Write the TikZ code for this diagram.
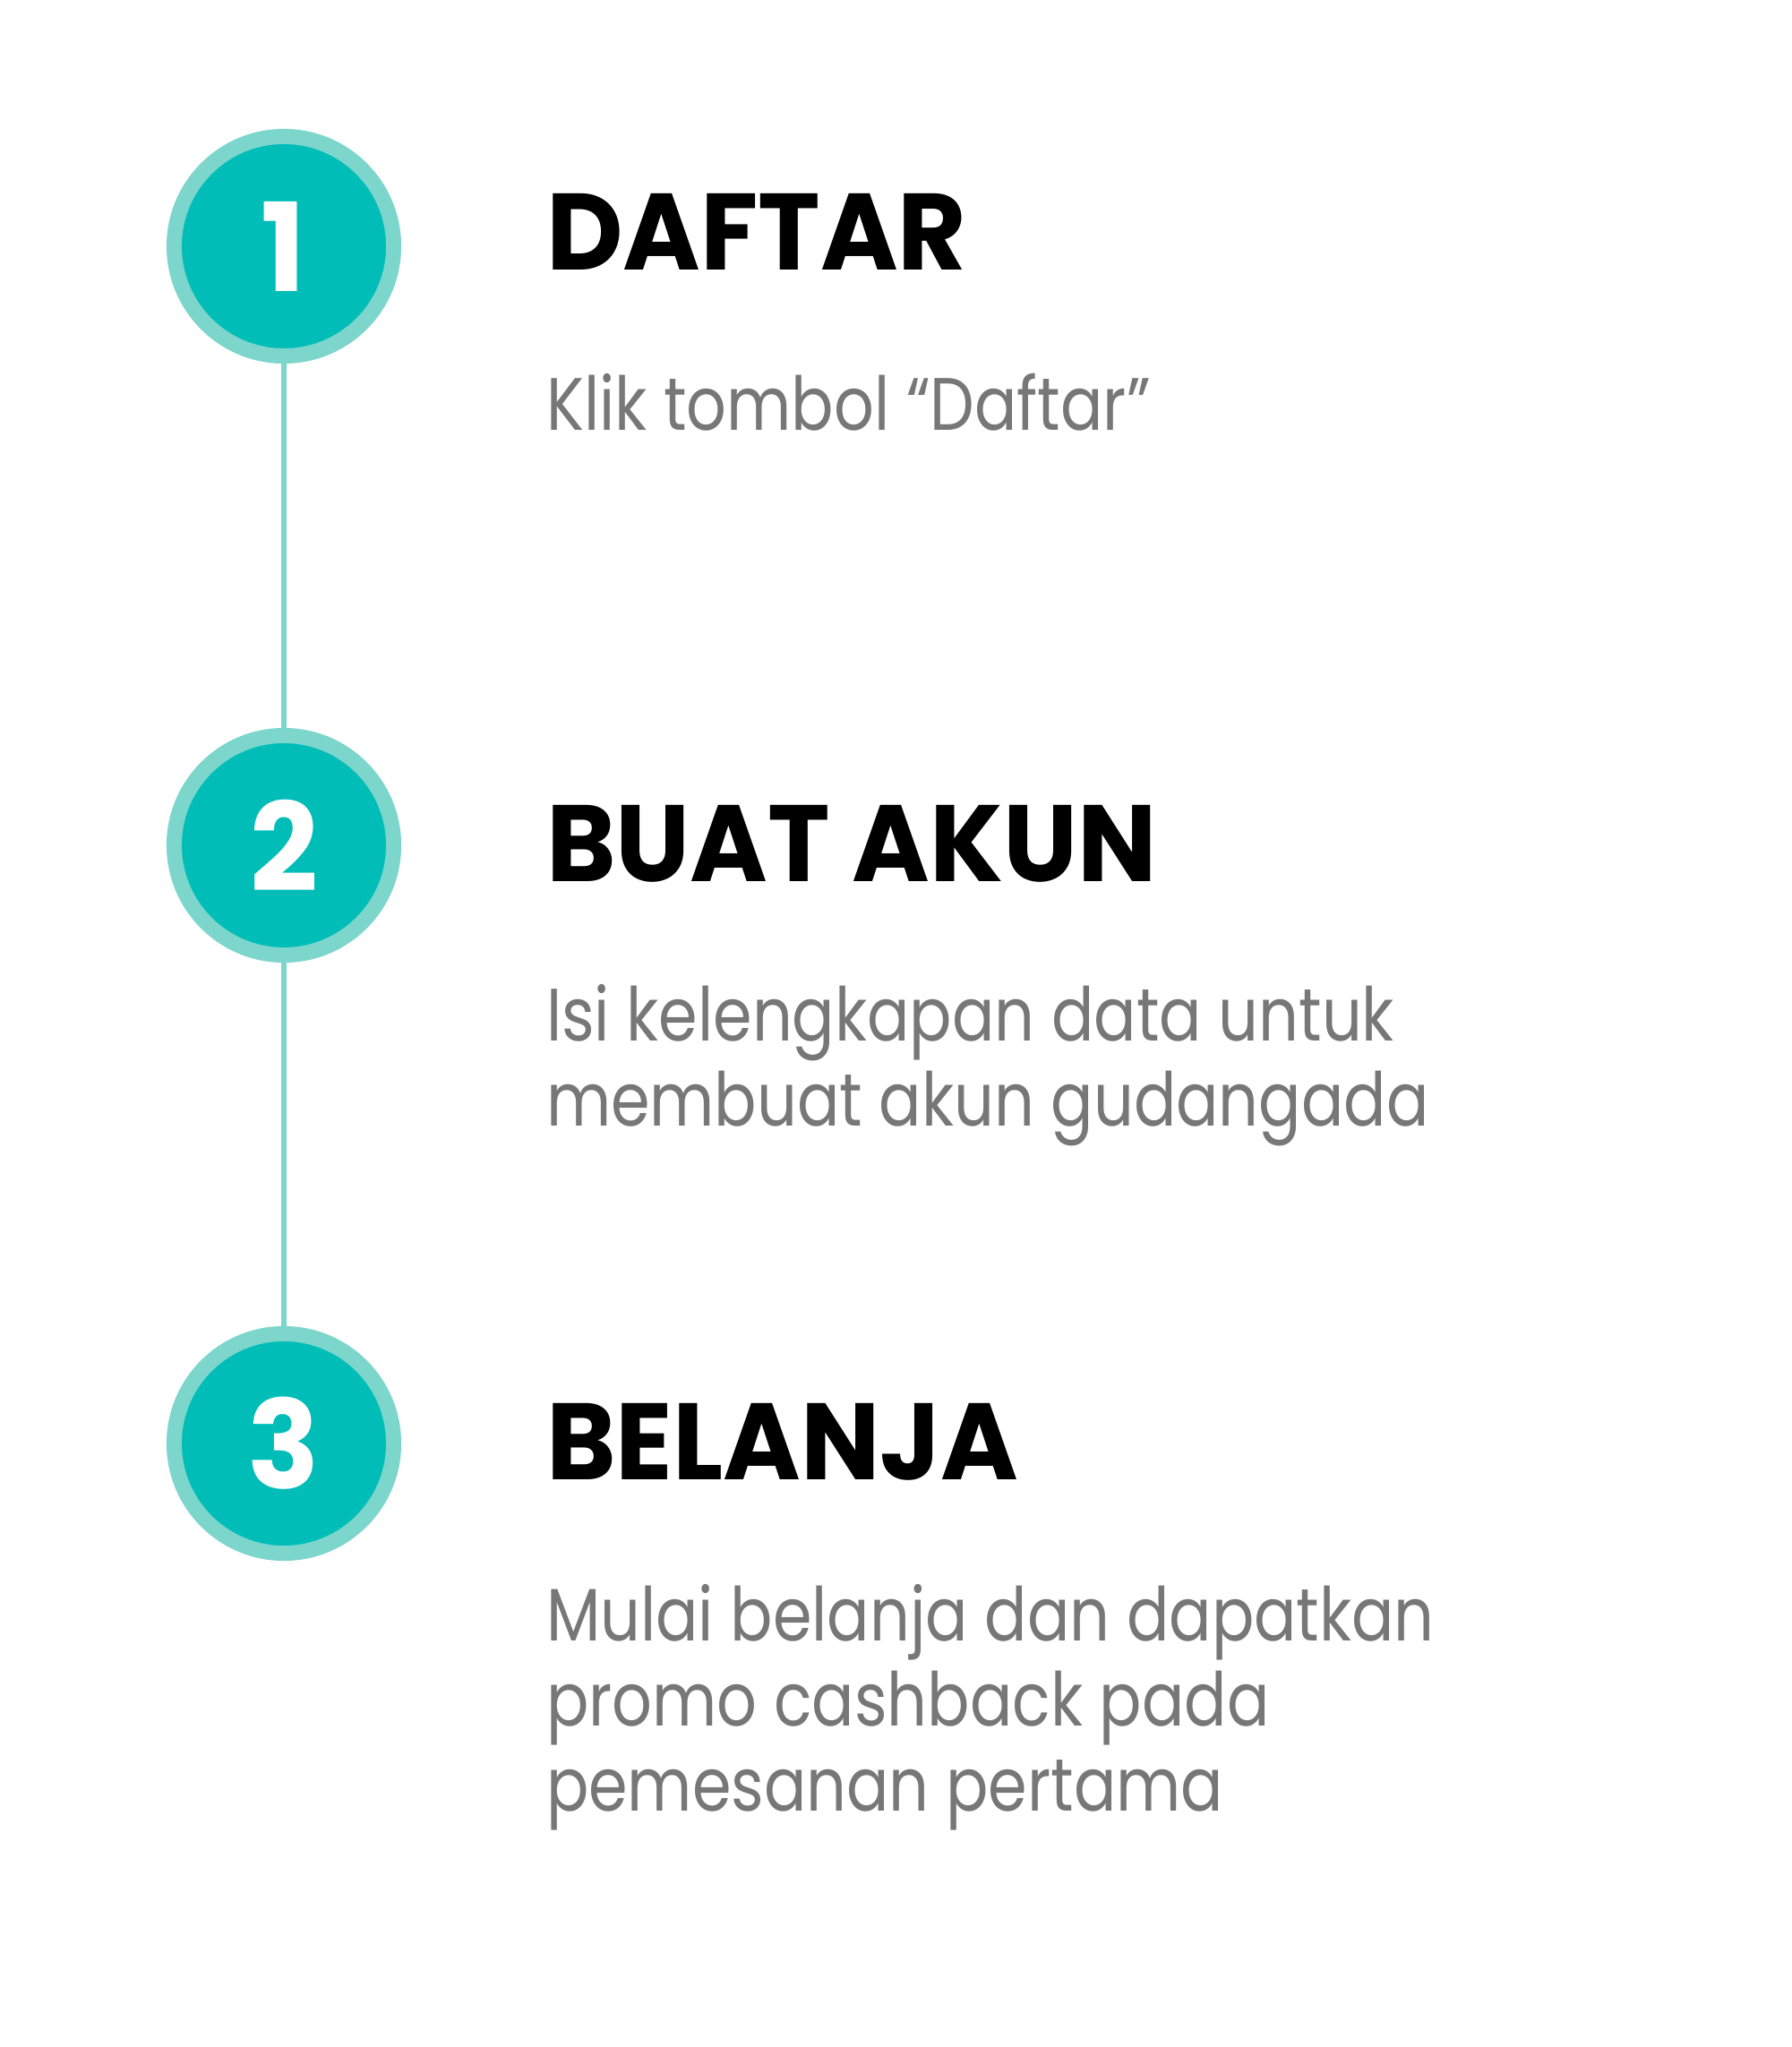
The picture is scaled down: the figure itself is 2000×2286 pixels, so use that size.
\documentclass[tikz,border=0pt]{standalone}
\usepackage{fontspec}
\setmainfont{Poppins}
\usepackage{xcolor}
\usepackage{tikz}
\usetikzlibrary{positioning}
\definecolor{ringc}{HTML}{7DD6CC}
\definecolor{discc}{HTML}{00BDB8}
\definecolor{descc}{HTML}{777777}
\newfontfamily\titlefont[FakeStretch=0.97]{Poppins Bold}
\newfontfamily\descfont[FakeStretch=0.845]{Poppins}
\begin{document}
\begin{tikzpicture}[x=0.01cm, y=-0.01cm, every node/.style={inner sep=0pt, outer sep=0pt}, stepdisc/.style={circle, draw=ringc, fill=discc, line width=0.17cm, minimum size=2.45cm, text=white, font=\titlefont\fontsize{39}{39}\selectfont}, ttl/.style={anchor=base west, font=\titlefont\fontsize{34.5}{36}\selectfont}, desc/.style={anchor=base west, align=left, text=descc, font=\descfont\fontsize{23.6}{27}\selectfont}, link/.style={draw=ringc, line width=0.067cm}]
\useasboundingbox (0,0) rectangle (2000,2286);
\node[stepdisc] (s1) at (317,275) {1};
\node[stepdisc] (s2) at (317,944) {2};
\node[stepdisc] (s3) at (317,1612) {3};
\node[ttl] (t1) at (610,302) {DAFTAR};
\node[ttl] (t2) at (610,984) {BUAT AKUN};
\node[ttl] (t3) at (610,1652) {BELANJA};
% multi-line texts sit on their last baseline
\node[desc] (d1) at (610,481) {Klik tombol “Daftar”};
\node[desc] (d2) at (610,1257) {Isi kelengkapan data untuk\\membuat akun gudangada};
\node[desc] (d3) at (610,2022) {Mulai belanja dan dapatkan\\promo cashback pada\\pemesanan pertama};
\draw[link] (s1)--(s2); \draw[link] (s2)--(s3);
\end{tikzpicture}
\end{document}
